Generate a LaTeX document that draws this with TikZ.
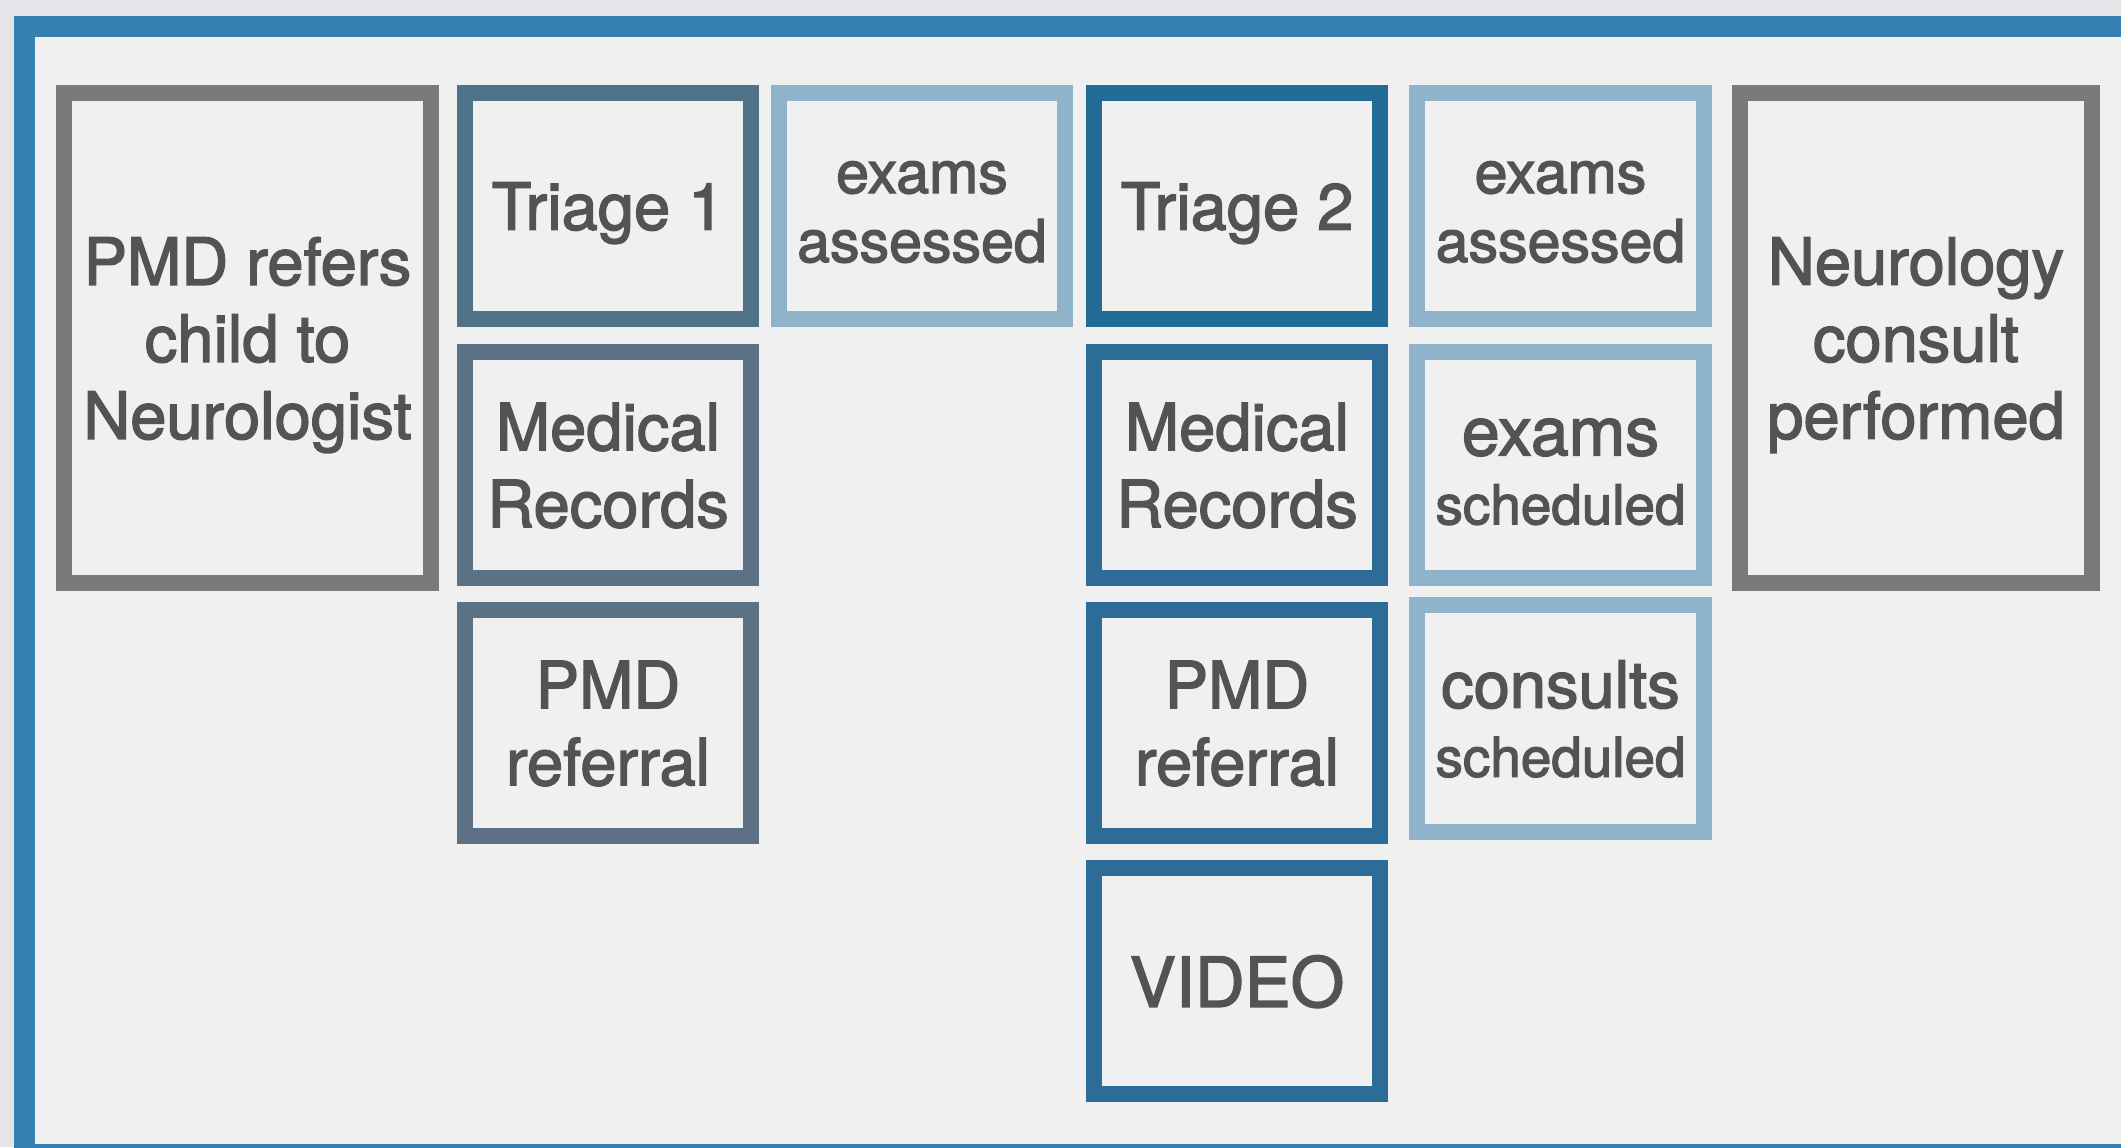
\documentclass[tikz,border=0pt]{standalone}
\usepackage{fontspec}
\setmainfont{TeX Gyre Heros}
\newfontfamily\lblfont[FakeBold=2.2]{TeX Gyre Heros}
\usepackage{xcolor}
\usepackage{tikz}

\definecolor{pagebg}{HTML}{E4E6EA}
\definecolor{panelbg}{HTML}{F0F0F0}
\definecolor{framecol}{HTML}{3580B1}
\definecolor{greybox}{HTML}{7A7A7A}
\definecolor{slatetop}{HTML}{4F7288}
\definecolor{slatemid}{HTML}{5A7186}
\definecolor{slatelow}{HTML}{5D7185}
\definecolor{deeptop}{HTML}{226B96}
\definecolor{deepblue}{HTML}{2C6C96}
\definecolor{paleblue}{HTML}{8FB3CA}
\definecolor{labelcol}{HTML}{535353}

\newcommand{\txtsize}[2]{\lblfont\fontsize{#1}{#2}\selectfont}

\tikzset{
  stepbox/.style = {draw, fill = panelbg, line width = 0.16cm, inner sep = 0pt,
    align = center, text = labelcol, text depth = 0pt,
    minimum width = 2.86cm, minimum height = 2.26cm,
    font = \txtsize{18.5pt}{21.9pt}},
  endbox/.style = {stepbox, draw = greybox, minimum width = 3.67cm, minimum height = 4.90cm},
  paleboxes/.style = {stepbox, draw = paleblue, font = \txtsize{16.8pt}{19.6pt}}
}

\begin{document}
\begin{tikzpicture}[x = 0.01cm, y = -0.01cm]
  \useasboundingbox (0,0) rectangle (2121,1147);
  \clip (0,0) rectangle (2121,1147);
  \fill[pagebg] (0,0) rectangle (2121,1147);

  % panel frame, right and bottom run off the page
  \draw[framecol, fill = panelbg, line width = 0.21cm] (24.5,26.5) rectangle (2135,1154.5);

  % start and end
  \node[endbox] (refer) at (247.5,338) {PMD refers\\child to\\Neurologist};
  \node[endbox, minimum width = 3.52cm] (consult) at (1916,338) {Neurology\\consult\\performed};

  % first triage
  \node[stepbox, draw = slatetop] (triageA) at (608,206) {Triage 1};
  \node[stepbox, draw = slatemid] (recordsA) at (608,465) {Medical\\Records};
  \node[stepbox, draw = slatelow] (referralA) at (608,723) {PMD\\referral};

  \node[paleboxes] (assessA) at (922,206) {\vphantom{d}exams\\assessed};

  % second triage
  \node[stepbox, draw = deeptop] (triageB) at (1237,206) {Triage 2};
  \node[stepbox, draw = deepblue] (recordsB) at (1237,465) {Medical\\Records};
  \node[stepbox, draw = deepblue] (referralB) at (1237,723) {PMD\\referral};
  \node[stepbox, draw = deepblue, font = \txtsize{19.6pt}{21.9pt}] (video) at (1237,981) {VIDEO};

  \node[paleboxes] (assessB) at (1560.5,206) {\vphantom{d}exams\\assessed};
  \node[paleboxes] (examsched) at (1560.5,465)
    {\txtsize{19.3pt}{19.6pt}\vphantom{d}exams\\\txtsize{15.6pt}{19.6pt}scheduled};
  \node[paleboxes] (consultsched) at (1560.5,718.5)
    {\txtsize{18.5pt}{19.6pt}consults\\\txtsize{15.6pt}{19.6pt}scheduled};
\end{tikzpicture}
\end{document}
